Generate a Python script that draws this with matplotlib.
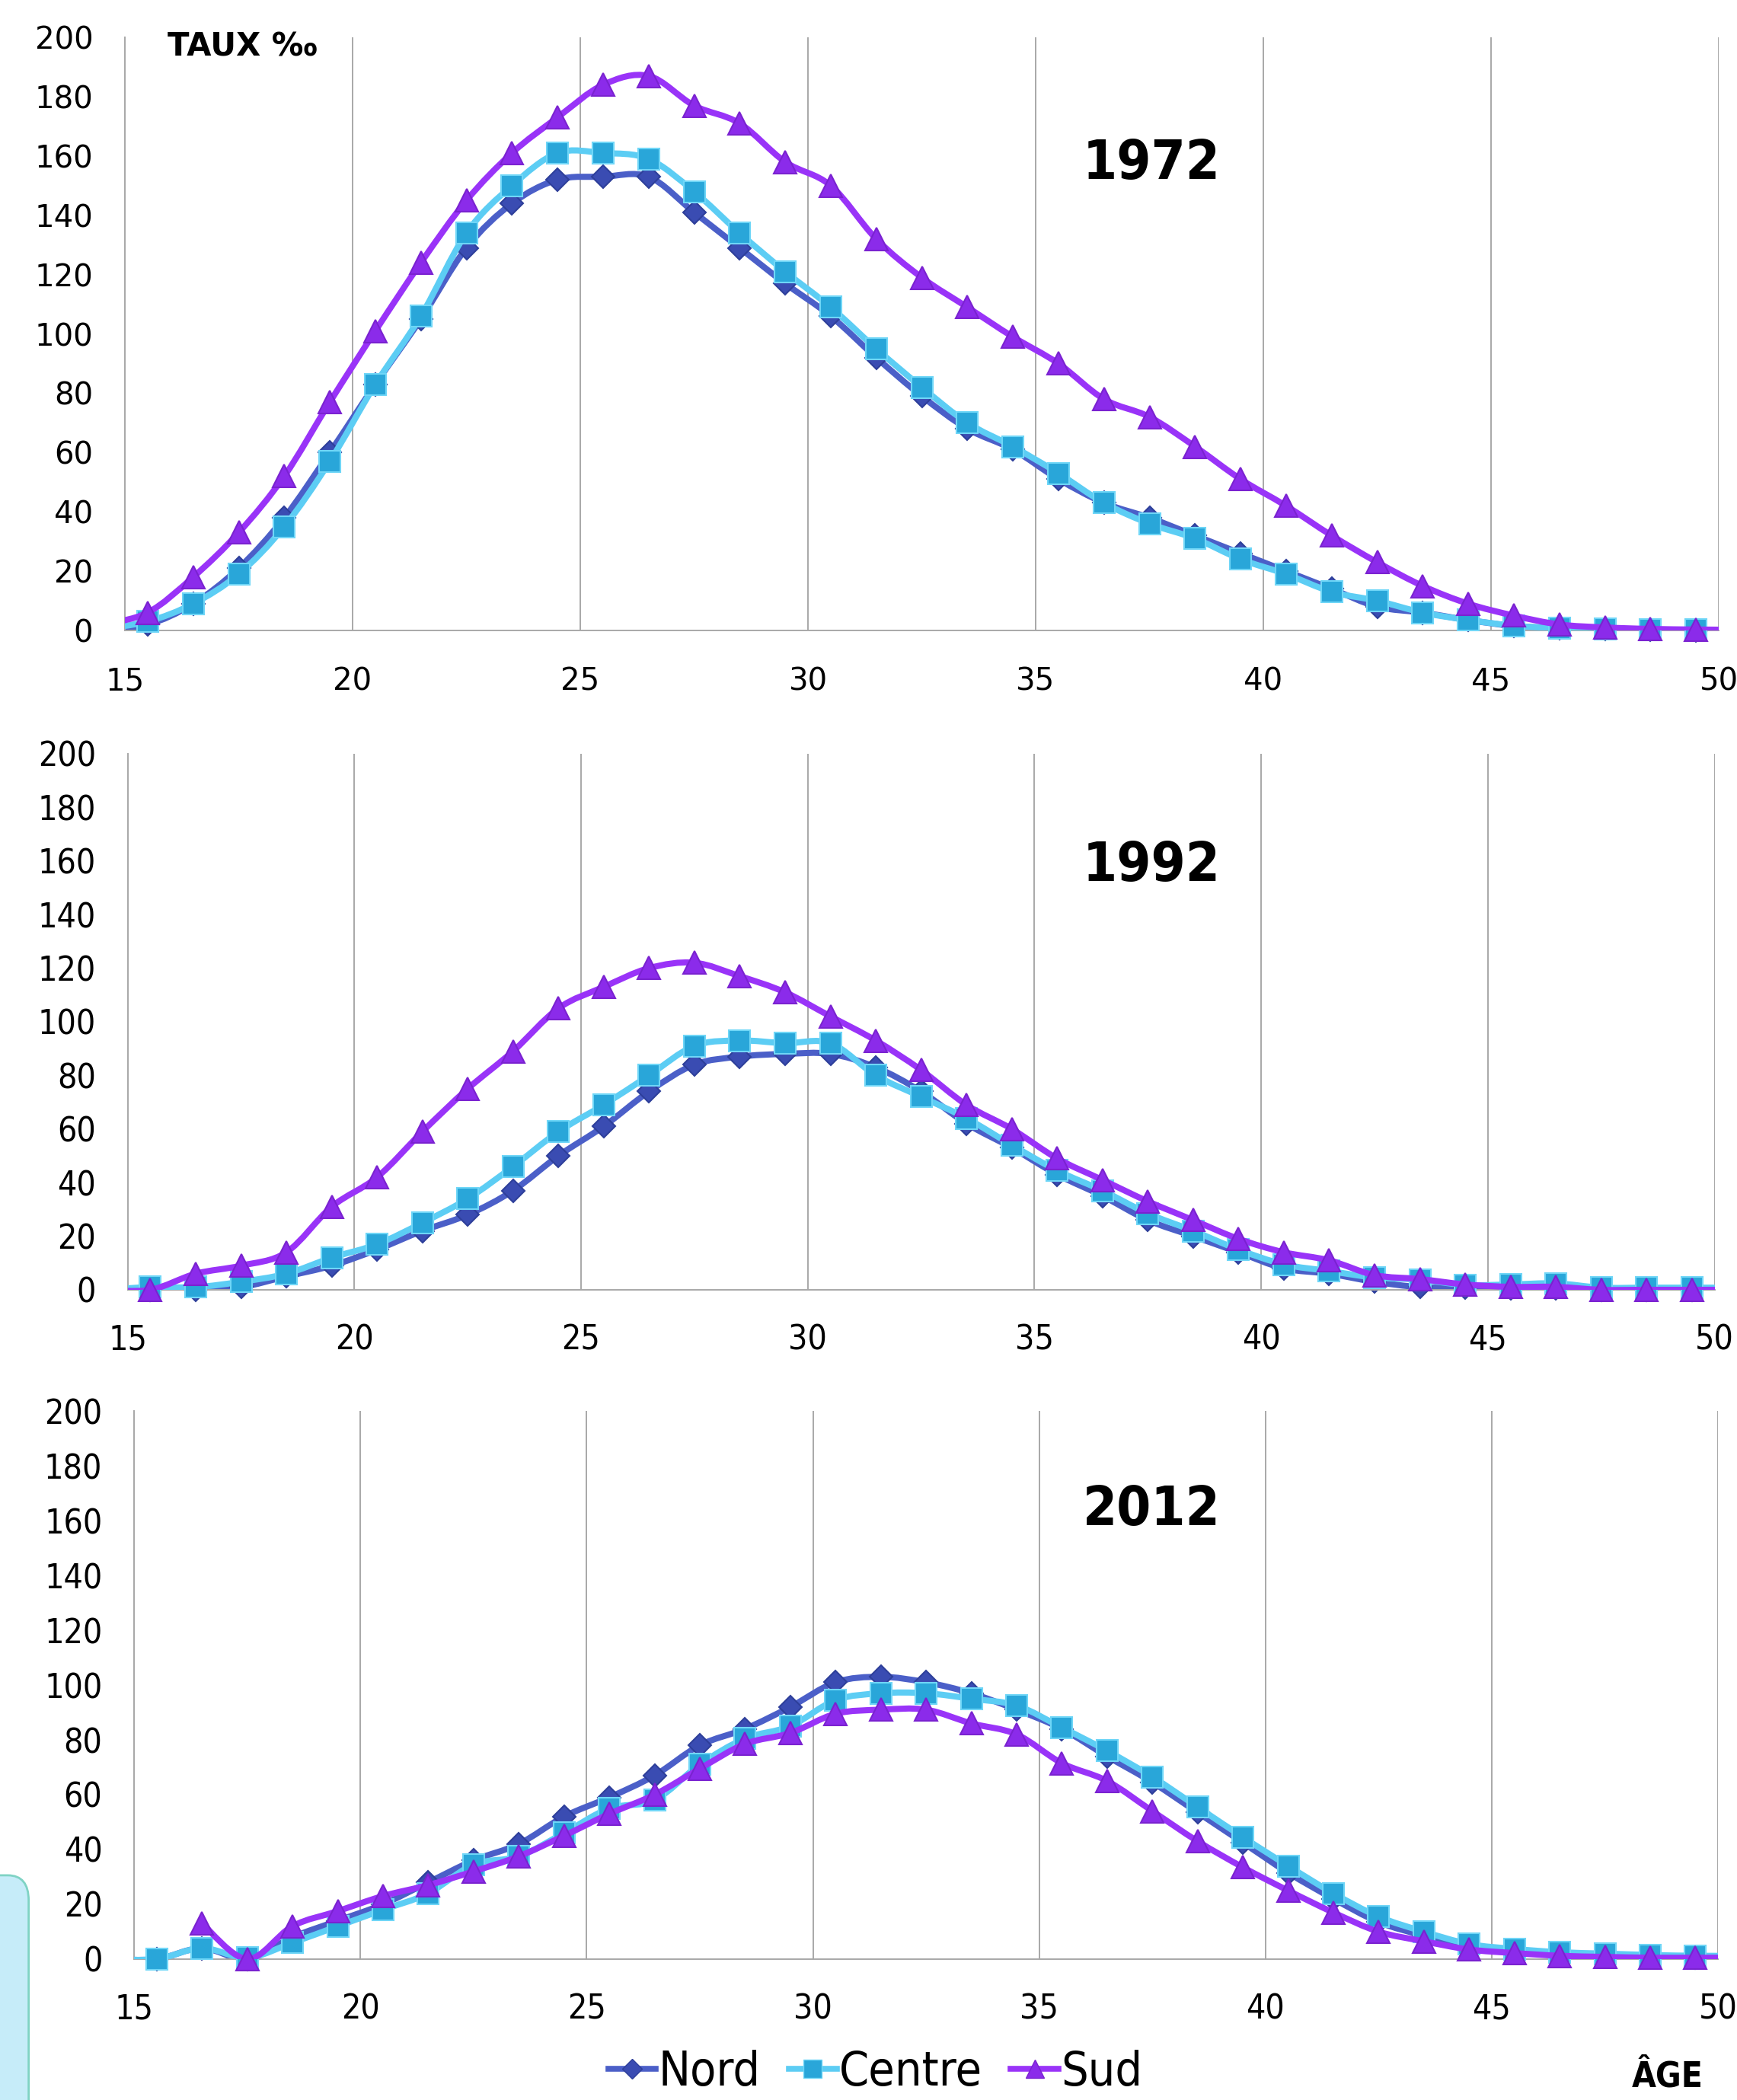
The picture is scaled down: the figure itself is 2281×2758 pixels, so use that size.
import numpy as np
import matplotlib.pyplot as plt
from matplotlib.path import Path
from matplotlib.patches import PathPatch, FancyBboxPatch
from matplotlib.lines import Line2D

# ages (mid-year); 14.5 and 50.5 only carry the line to the axis edges
ages = np.arange(14.5, 51.0, 1.0)

nord_1972 = [0.5, 2, 9, 21, 38, 60, 83, 105, 129, 144, 152,
             153, 153, 141, 129, 117, 106, 92, 79, 68, 61,
             51, 43, 38, 32, 26, 20, 14, 8, 6, 3.5,
             1.5, 0.8, 0.4, 0.2, 0.1, 0]
centre_1972 = [0.5, 3, 9, 19, 35, 57, 83, 106, 134, 150, 161,
               161, 159, 148, 134, 121, 109, 95, 82, 70, 62,
               53, 43, 36, 31, 24, 19, 13, 10, 6, 3.5,
               1.6, 0.7, 0.4, 0.2, 0.2, 0.1]
sud_1972 = [2, 6, 18, 33, 52, 77, 101, 124, 145, 161, 173,
            184, 187, 177, 171, 158, 150, 132, 119, 109, 99,
            90, 78, 72, 62, 51, 42, 32, 23, 15, 9,
            5, 2, 1, 0.5, 0.3, 0.2]

nord_1992 = [0, 0, 0, 1, 5, 9, 15, 22, 28, 37, 50,
             61, 74, 84, 87, 88, 88, 83, 74, 62, 53,
             43, 35, 26, 20, 14, 8, 6, 3, 1, 0.8,
             0.5, 0.5, 0, 0, 0, 0]
centre_1992 = [0, 1, 1, 3, 6, 12, 17, 25, 34, 46, 59,
               69, 80, 91, 93, 92, 92, 80, 72, 64, 54,
               44.5, 37, 28.5, 22, 15, 9.5, 7, 4.6, 3.8, 1.8,
               2, 2.4, 0.8, 0.8, 0.8, 0.8]
sud_1992 = [0, 0, 6, 9, 14, 31, 42, 59, 75, 89, 105,
            113, 120, 122, 117, 111, 102, 93, 82, 69, 60,
            49, 41, 33, 26, 19, 14, 11, 5.5, 4, 2,
            1.1, 1.1, 0, 0, 0, 0]

nord_2012 = [0, 0, 4, 0, 8, 14, 20, 28, 36, 42, 52,
             59, 67, 78, 84, 92, 101, 103, 101, 97, 91,
             84, 74, 64.5, 53.5, 42.5, 31.5, 22, 13.5, 8.5, 4.2,
             2.5, 1.7, 1.2, 0.8, 0.5, 0.5]
centre_2012 = [0, 0, 4, 0.5, 6, 12, 18, 24, 34.5, 37.5, 46,
               55, 58, 71, 80.5, 85, 94.5, 97, 97, 95, 92.5,
               84.5, 76, 66.5, 55.5, 44.5, 34, 24, 15.5, 10, 5.5,
               3.7, 2.5, 2, 1.5, 1.2, 1.2]
sud_2012 = [np.nan, np.nan, 13, 0, 12, 17.5, 23, 27, 32, 37.5, 45,
            53, 60, 69.5, 78.5, 82.5, 89.5, 91, 91, 86, 82,
            71.5, 65, 54, 43, 33.5, 25, 17, 10, 6.5, 3.5,
            2.2, 1.2, 0.8, 0.5, 0.5, 0.5]

years = ['1972', '1992', '2012']
regions = ['Nord', 'Centre', 'Sud']
panels = [(nord_1972, centre_1972, sud_1972),
          (nord_1992, centre_1992, sud_1992),
          (nord_2012, centre_2012, sud_2012)]

line_cols = ['#4B5FC8', '#5CCDF4', '#9933F8']
mk_face = ['#3A4CB2', '#29A6D9', '#8B2BEA']
mk_edge = ['#2E3F9A', '#6FD6F7', '#7A22D0']
mk_style = ['D', 's', '^']
mk_size = [15, 20, 21]


def smooth_path(x, y):
    # bezier through the points, like the "smoothed line" option of a spreadsheet
    pts = np.column_stack([x, y])
    pts = pts[~np.isnan(pts[:, 1])]
    n = len(pts)
    verts = [pts[0]]
    codes = [Path.MOVETO]
    for i in range(n - 1):
        p0 = pts[max(i - 1, 0)]
        p1 = pts[i]
        p2 = pts[i + 1]
        p3 = pts[min(i + 2, n - 1)]
        verts += [p1 + (p2 - p0) / 6, p2 - (p3 - p1) / 6, p2]
        codes += [Path.CURVE4] * 3
    return Path(verts, codes)


fig = plt.figure(figsize=(22.81, 27.58), dpi=100)
boxes = [[0.0719, 0.6998, 0.9176, 0.2824],
         [0.0735, 0.3858, 0.9136, 0.2553],
         [0.0772, 0.0671, 0.9119, 0.2610]]
year_y = [1 - 215 / 2758, 1 - 1138 / 2758, 1 - 1984 / 2758]

shown = (ages > 15) & (ages < 50)

for k, (box, series) in enumerate(zip(boxes, panels)):
    ax = fig.add_axes(box)
    for j, vals in enumerate(series):
        vals = np.array(vals, dtype=float)
        ax.add_patch(PathPatch(smooth_path(ages, vals), fill=False,
                               edgecolor=line_cols[j], lw=5.8,
                               capstyle='round', joinstyle='round', zorder=2 + j))
        ax.plot(ages[shown], vals[shown], ls='none', marker=mk_style[j],
                ms=mk_size[j], mfc=mk_face[j], mec=mk_edge[j], mew=1.5,
                clip_on=False, zorder=2.5 + j)
    ax.set_xlim(15, 50)
    ax.set_ylim(0, 200)
    ax.set_xticks(range(15, 51, 5))
    ax.set_yticks(range(0, 201, 20))
    ax.grid(axis='x', color='#A8A8A8', lw=1.4)
    ax.set_axisbelow(True)
    for s in ['top', 'right']:
        ax.spines[s].set_visible(False)
    for s in ['left', 'bottom']:
        ax.spines[s].set_color('#A8A8A8')
        ax.spines[s].set_linewidth(1.4)
    if k == 0:
        ax.tick_params(length=0, labelsize=29)
        ax.tick_params(axis='y', pad=30)
        ax.tick_params(axis='x', pad=34)
    else:
        ax.tick_params(length=0, labelsize=32)
        ax.tick_params(axis='y', pad=30)
        ax.tick_params(axis='x', pad=32)
        for lab in ax.get_xticklabels() + ax.get_yticklabels():
            lab.set_fontstretch('condensed')
    fig.text(1512 / 2281, year_y[k], years[k], ha='center', va='center',
             fontsize=52, fontweight='bold', fontstretch='condensed')

fig.text(220 / 2281, 1 - 62 / 2758, 'TAUX ‰', ha='left', va='center',
         fontsize=30, fontweight='bold')
fig.text(2190 / 2281, 1 - 2728 / 2758, 'ÂGE', ha='center', va='center',
         fontsize=33, fontweight='bold', fontstretch='condensed')

handles = [Line2D([], [], color=line_cols[j], lw=5.5, marker=mk_style[j],
                  ms=mk_size[j] * 0.85, mfc=mk_face[j], mec=mk_edge[j])
           for j in range(3)]
leg = fig.legend(handles, regions, loc='lower center', bbox_to_anchor=(0.504, 0.0),
                 ncol=3, frameon=False, fontsize=45, handlelength=1.0,
                 handletextpad=0.05, columnspacing=0.6, borderaxespad=0.05,
                 borderpad=0.05)
for t in leg.get_texts():
    t.set_fontstretch('condensed')

# bit of the slide background showing at the lower left
fig.patches.append(FancyBboxPatch((-0.05, -0.05), 0.0665, 0.157,
                                  boxstyle='round,pad=0,rounding_size=0.012',
                                  transform=fig.transFigure, facecolor='#C6ECF9',
                                  edgecolor='#7FD3C4', lw=2))

fig.savefig('out.png', dpi=100)
